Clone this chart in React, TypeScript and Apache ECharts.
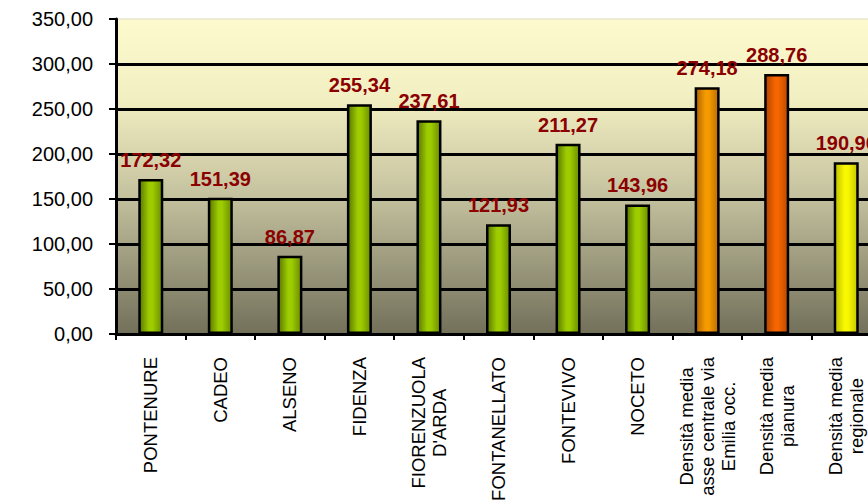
import React, { useEffect, useRef } from "react";
import * as echarts from "echarts";

const categories: string[] = [
  "PONTENURE",
  "CADEO",
  "ALSENO",
  "FIDENZA",
  "FIORENZUOLA\nD'ARDA",
  "FONTANELLATO",
  "FONTEVIVO",
  "NOCETO",
  "Densità media\nasse centrale via\nEmilia occ.",
  "Densità media\npianura",
  "Densità media\nregionale",
];

const values: number[] = [172.32, 151.39, 86.87, 255.34, 237.61, 121.93, 211.27, 143.96, 274.18, 288.76, 190.96];

// colour group of each bar: g = green, o = orange, r = red-orange, y = yellow
const colorGroups: string[] = ["g", "g", "g", "g", "g", "g", "g", "g", "o", "r", "y"];

const yTicks = { min: 0, max: 350, interval: 50 };

const FONT = "'Liberation Sans', Arial, sans-serif";

const grad = (a: string, b: string, c: string) =>
  new echarts.graphic.LinearGradient(0, 0, 1, 0, [
    { offset: 0, color: a },
    { offset: 0.42, color: b },
    { offset: 0.58, color: b },
    { offset: 1, color: c },
  ]);

const palette: Record<string, () => any> = {
  g: () => grad("#5A7800", "#9DCC00", "#6C8E00"),
  o: () => grad("#B06400", "#F59A00", "#BC6E00"),
  r: () => grad("#B04400", "#F56500", "#BC4A00"),
  y: () => grad("#BEBE00", "#F8F800", "#C4C400"),
};

const fmt = (v: number) => v.toFixed(2).replace(".", ",");

export default function App() {
  const ref = useRef<HTMLDivElement>(null);

  useEffect(() => {
    if (!ref.current) return;
    const chart = echarts.init(ref.current, undefined, { renderer: "svg" });
    chart.setOption({
      animation: false,
      backgroundColor: "#ffffff",
      textStyle: { fontFamily: FONT },
      grid: {
        left: 116,
        top: 19,
        bottom: 167,
        right: -13,
        containLabel: false,
        outerBoundsMode: "none",
        show: true,
        borderColor: "#DDDBC0",
        borderWidth: 1,
        backgroundColor: new echarts.graphic.LinearGradient(0, 0, 0, 1, [
          { offset: 0, color: "#FDFBCE" },
          { offset: 0.25, color: "#F2EFC2" },
          { offset: 0.55, color: "#C6C3A0" },
          { offset: 1, color: "#72705A" },
        ]),
      },
      xAxis: {
        type: "category",
        data: categories,
        axisLine: { show: true, lineStyle: { color: "#000", width: 3 } },
        axisTick: { show: true, length: 6, lineStyle: { color: "#000", width: 2 } },
        axisLabel: {
          rotate: 90,
          margin: 23,
          interval: 0,
          fontFamily: FONT,
          fontSize: 18,
          color: "#000",
          formatter: (v: string) =>
            v
              .split("\n")
              .map((l) => `{c|${l}}`)
              .join("\n"),
          rich: {
            c: { fontFamily: FONT, fontSize: 18.5, color: "#000", align: "center", lineHeight: 21 },
          },
        },
      },
      yAxis: {
        type: "value",
        min: yTicks.min,
        max: yTicks.max,
        interval: yTicks.interval,
        axisLine: { show: true, lineStyle: { color: "#000", width: 3 } },
        axisTick: { show: true, length: 7, lineStyle: { color: "#000", width: 2 } },
        axisLabel: {
          margin: 23,
          fontFamily: FONT,
          fontSize: 20,
          color: "#000",
          formatter: (v: number) => fmt(v),
        },
        splitLine: {
          show: true,
          showMinLine: false,
          showMaxLine: false,
          lineStyle: { color: "#000", width: 3 },
        },
      },
      series: [
        {
          type: "bar",
          barWidth: 25,
          data: values.map((v, i) => ({
            value: v,
            itemStyle: { color: palette[colorGroups[i]]() },
          })),
          itemStyle: { borderColor: "#000", borderWidth: 2.5 },
          label: {
            show: true,
            position: "top",
            distance: 9,
            fontFamily: FONT,
            fontSize: 20,
            fontWeight: "bold",
            color: "#8B0000",
            formatter: (p: any) => fmt(p.value),
          },
        },
      ],
    });
    return () => chart.dispose();
  }, []);

  return (
    <div
      ref={ref}
      style={{ position: "fixed", left: 0, top: 0, width: 868, height: 501 }}
    />
  );
}
